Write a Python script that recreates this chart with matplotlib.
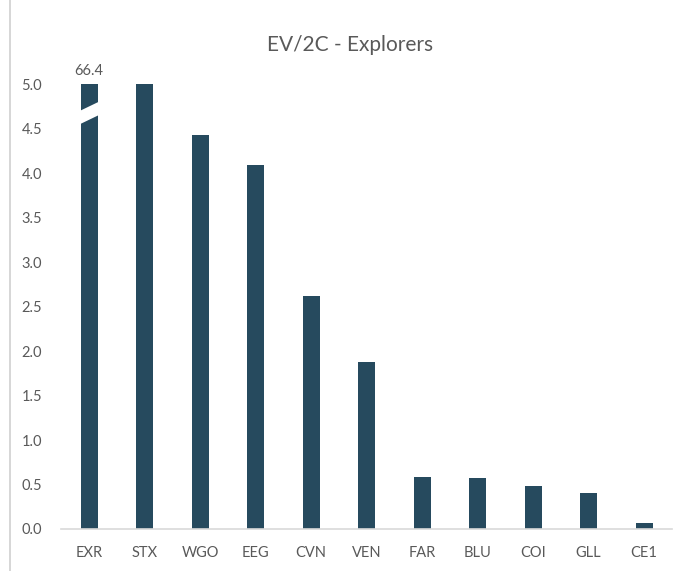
import matplotlib

matplotlib.use("Agg")

import matplotlib.pyplot as plt
from matplotlib.patches import Polygon
from matplotlib.lines import Line2D

plt.rcParams["font.family"] = ["Lato", "DejaVu Sans"]

tickers = ["EXR", "STX", "WGO", "EEG", "CVN", "VEN", "FAR", "BLU", "COI", "GLL", "CE1"]
ev_2c = [66.4, 5.0, 4.43, 4.09, 2.62, 1.88, 0.58, 0.57, 0.48, 0.41, 0.07]
y_cap = 5.0
y_ticks = [0.0, 0.5, 1.0, 1.5, 2.0, 2.5, 3.0, 3.5, 4.0, 4.5, 5.0]

BAR = "#264A5E"
GREY = "#595959"

fig = plt.figure(figsize=(6.86, 5.71), dpi=100)
ax = fig.add_axes([0.0895, 0.0736, 0.890, 0.779])

shown = [min(v, y_cap) for v in ev_2c]
x = list(range(len(tickers)))
ax.bar(x, shown, width=0.31, color=BAR, zorder=2)

# axis break on bars above the cap
for i, v in enumerate(ev_2c):
    if v > y_cap:
        ax.text(i, y_cap + 0.07, f"{v:.1f}", ha="center", va="bottom",
                fontsize=10.5, color=GREY)
        hw = 0.2
        gap = [(i - hw, y_cap - 0.46), (i + hw, y_cap - 0.34),
               (i + hw, y_cap - 0.19), (i - hw, y_cap - 0.31)]
        ax.add_patch(Polygon(gap, closed=True, facecolor="white",
                             edgecolor="none", zorder=3))

ax.set_xlim(-0.5, 10.5)
ax.set_ylim(0, y_cap)
ax.set_xticks(x, tickers)
ax.set_yticks(y_ticks, [f"{t:.1f}" for t in y_ticks])
ax.tick_params(axis="both", length=0, labelsize=10.5, labelcolor=GREY)
ax.tick_params(axis="x", pad=12)
ax.tick_params(axis="y", pad=14)

for side in ("top", "right", "left"):
    ax.spines[side].set_visible(False)
ax.spines["bottom"].set_color("#D9D9D9")
ax.spines["bottom"].set_linewidth(1.2)

fig.text(0.51, 0.922, "EV/2C - Explorers", ha="center", va="center",
         fontsize=15, color=GREY)

# chart frame edge on the left
fig.add_artist(Line2D([0.015, 0.015], [0.0, 1.0], color="#D0D0D0", lw=1.2))

fig.savefig("out.png", dpi=100)
plt.close(fig)
